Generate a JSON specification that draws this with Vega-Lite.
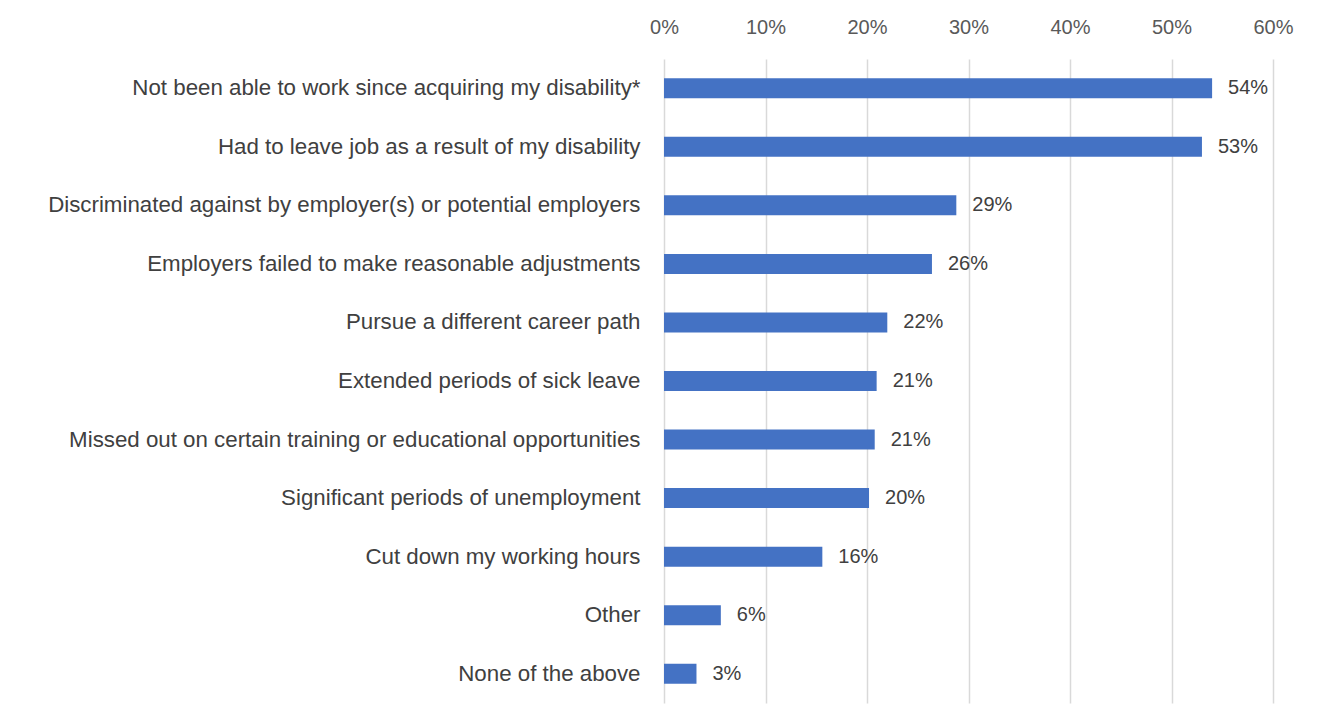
{
  "$schema": "https://vega.github.io/schema/vega-lite/v6.json",
  "autosize": "none",
  "width": 609,
  "height": 644,
  "padding": {"left": 664, "top": 59, "right": 65, "bottom": 23},
  "background": "#ffffff",
  "data": {
    "values": [
      {"item": "Not been able to work since acquiring my disability*", "value": 0.540},
      {"item": "Had to leave job as a result of my disability", "value": 0.530},
      {"item": "Discriminated against by employer(s) or potential employers", "value": 0.288},
      {"item": "Employers failed to make reasonable adjustments", "value": 0.264},
      {"item": "Pursue a different career path", "value": 0.220},
      {"item": "Extended periods of sick leave", "value": 0.2095},
      {"item": "Missed out on certain training or educational opportunities", "value": 0.2076},
      {"item": "Significant periods of unemployment", "value": 0.202},
      {"item": "Cut down my working hours", "value": 0.156},
      {"item": "Other", "value": 0.056},
      {"item": "None of the above", "value": 0.032}
    ]
  },
  "encoding": {
    "y": {
      "field": "item",
      "type": "nominal",
      "sort": null,
      "title": null,
      "scale": {"paddingInner": 0.658, "paddingOuter": 0.329},
      "axis": {
        "domain": false,
        "ticks": false,
        "tickSize": 0,
        "labelPadding": 24,
        "labelFont": "Liberation Sans",
        "labelFontSize": 22.3,
        "labelColor": "#404040",
        "labelLimit": 700
      }
    },
    "x": {
      "field": "value",
      "type": "quantitative",
      "title": null,
      "scale": {"domain": [0, 0.6], "nice": false},
      "axis": {
        "orient": "top",
        "format": ".0%",
        "values": [0, 0.1, 0.2, 0.3, 0.4, 0.5, 0.6],
        "domain": false,
        "ticks": false,
        "tickSize": 0,
        "grid": true,
        "gridColor": "#d9d9d9",
        "gridWidth": 1.5,
        "labelFlush": false,
        "labelPadding": 22,
        "labelFont": "Liberation Sans",
        "labelFontSize": 20,
        "labelColor": "#595959"
      }
    }
  },
  "layer": [
    {"mark": {"type": "bar", "color": "#4472C4"}},
    {
      "mark": {"type": "text", "align": "left", "baseline": "middle", "dx": 16, "font": "Liberation Sans", "fontSize": 20, "color": "#404040"},
      "encoding": {"text": {"field": "value", "type": "quantitative", "format": ".0%"}}
    }
  ],
  "config": {"view": {"stroke": null}}
}
